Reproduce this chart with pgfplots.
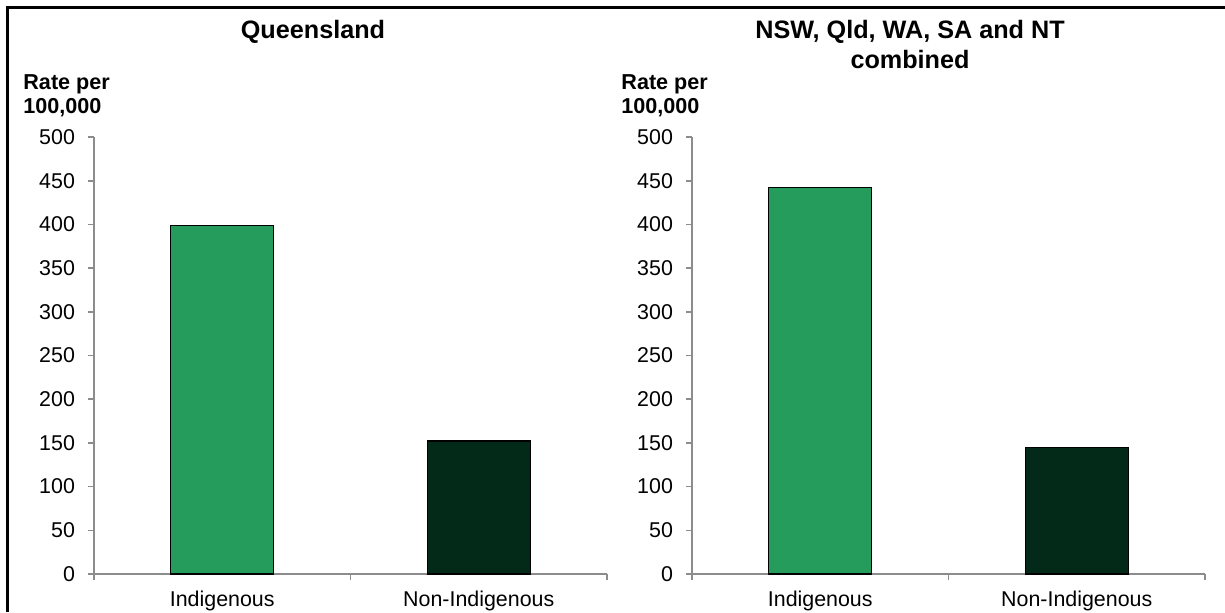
\documentclass[border=0pt]{standalone}
\usepackage{fontspec}
\setmainfont{Liberation Sans}
\usepackage{pgfplots}
\pgfplotsset{compat=1.18}
\definecolor{barA}{HTML}{259C5C}
\definecolor{barB}{HTML}{032A18}
\definecolor{axgray}{HTML}{8C8C8C}
\pgfplotsset{panel/.style={
  scale only axis, width=256.5pt, height=218.5pt, anchor=south west,
  axis x line*=bottom, axis y line*=left,
  xmin=0.5, xmax=2.5, ymin=0, ymax=500,
  ytick={0,50,...,500},
  xtick={0.5,1.5,2.5}, xticklabels={,,},
  extra x ticks={1,2}, extra x tick labels={Indigenous,Non-Indigenous},
  extra x tick style={major tick length=0pt, xticklabel style={yshift=-5pt}},
  tick align=outside, major tick length=3pt,
  tick style={axgray, line width=0.8pt},
  axis line style={axgray, line width=0.8pt},
  ticklabel style={font=\fontsize{10.7}{12}\selectfont, text=black},
  yticklabel style={xshift=-3pt},
  /pgf/number format/assume math mode=true,
  clip=false,
}}
\begin{document}
\begin{tikzpicture}
\path[use as bounding box] (0,0) rectangle (612.5pt,306pt);
\draw[line width=1.25pt] (3.75pt,0) -- (3.75pt,302.25pt) -- (612.5pt,302.25pt);
\begin{axis}[panel, at={(47pt,19pt)}]
\addplot[ybar, bar shift=0pt, bar width=51.5pt, fill=barA, draw=black, line width=0.7pt] coordinates {(1,399)};
\addplot[ybar, bar shift=0pt, bar width=51.5pt, fill=barB, draw=black, line width=0.7pt] coordinates {(2,152)};
\end{axis}
\begin{axis}[panel, at={(346pt,19pt)}]
\addplot[ybar, bar shift=0pt, bar width=51.5pt, fill=barA, draw=black, line width=0.7pt] coordinates {(1,442)};
\addplot[ybar, bar shift=0pt, bar width=51.5pt, fill=barB, draw=black, line width=0.7pt] coordinates {(2,145)};
\end{axis}
\node[anchor=base, font=\fontsize{12.6}{15}\selectfont\bfseries, inner sep=0pt] at (156.5pt,286.5pt) {Queensland};
\node[anchor=base, font=\fontsize{12.6}{15}\selectfont\bfseries, inner sep=0pt] at (455pt,287pt) {NSW, Qld, WA, SA and NT};
\node[anchor=base, font=\fontsize{12.6}{15}\selectfont\bfseries, inner sep=0pt] at (455pt,272pt) {combined};
\node[anchor=base west, font=\fontsize{10.8}{13}\selectfont\bfseries, inner sep=0pt] at (11.5pt,261.5pt) {Rate per};
\node[anchor=base west, font=\fontsize{10.8}{13}\selectfont\bfseries, inner sep=0pt] at (11.5pt,249.5pt) {100,000};
\node[anchor=base west, font=\fontsize{10.8}{13}\selectfont\bfseries, inner sep=0pt] at (310.5pt,261.5pt) {Rate per};
\node[anchor=base west, font=\fontsize{10.8}{13}\selectfont\bfseries, inner sep=0pt] at (310.5pt,249.5pt) {100,000};
\end{tikzpicture}
\end{document}
